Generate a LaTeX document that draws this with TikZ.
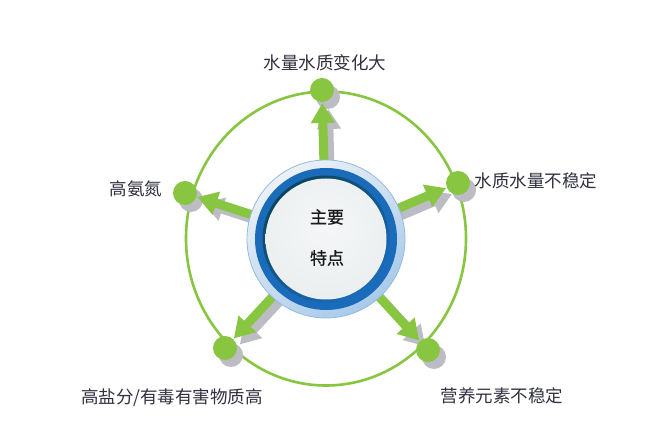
\documentclass[tikz,border=0pt]{standalone}
\usepackage{fontspec}
\setmainfont{Noto Sans CJK SC}
\newfontfamily\cfont[FakeBold=0.6]{Noto Sans CJK SC}
\usetikzlibrary{arrows.meta,calc}
\definecolor{lgreen}{RGB}{136,198,66}
\definecolor{sgray}{RGB}{188,188,196}
\definecolor{txt}{RGB}{48,48,64}
\definecolor{ringblue}{RGB}{168,202,234}
\definecolor{ringlight}{RGB}{236,241,246}
\definecolor{ringedge}{RGB}{150,186,222}
\definecolor{darkblue}{RGB}{26,108,186}
\definecolor{darkteal}{RGB}{10,70,96}
\definecolor{facec}{RGB}{244,246,247}
\definecolor{facee}{RGB}{222,226,228}
\pgfdeclareradialshading{faceshade}{\pgfpoint{0bp}{6bp}}{color(0bp)=(facec); color(30bp)=(facec!60!facee); color(48bp)=(facee); color(56bp)=(facec)}
\tikzset{
  garrow/.style={draw=lgreen, line width=9pt, -{Triangle[width=23pt,length=20pt]}, shorten >=13pt},
  sarrow/.style={draw=sgray, line width=9pt, -{Triangle[width=23pt,length=20pt]}, shorten >=13pt},
  gdot/.style={circle, fill=lgreen, minimum size=24pt, inner sep=0pt},
  sdot/.style={circle, fill=sgray, minimum size=24pt, inner sep=0pt},
  lbl/.style={text=txt, font=\fontsize{17.5}{20}\selectfont, inner sep=0pt},
  ctext/.style={text=black!90, font=\cfont\fontsize{17}{20}\selectfont, inner sep=0pt},
}
\begin{document}
\begin{tikzpicture}[x=1pt,y=1pt]
\useasboundingbox (0,0) rectangle (661,441);
\fill[white] (0,0) rectangle (661,441);
\coordinate (c) at (326,202);
\coordinate (p1) at (322,351);
\coordinate (p2) at (458,258);
\coordinate (p3) at (185,248);
\coordinate (p4) at (428,91);
\coordinate (p5) at (225,93);
% outer ring
\draw[lgreen, line width=2.6pt] (326,202.5) ellipse [x radius=140, y radius=147];
% shadows
\foreach \p in {p1,p2,p3,p4,p5}{
  \draw[sarrow] ([shift={(6,-6)}]c) -- ([shift={(6,-6)}]\p);
  \node[sdot] at ([shift={(6,-7)}]\p) {};
}
% green arrows
\foreach \p in {p1,p2,p3,p4,p5}{
  \draw[garrow] (c) -- (\p);
}
\node[gdot] (d1) at (p1) {};
\node[gdot] (d2) at (p2) {};
\node[gdot] (d3) at (p3) {};
\node[gdot] (d4) at (p4) {};
\node[gdot] (d5) at (p5) {};
% centre button
\node[circle, minimum size=158pt, inner sep=0pt, top color=ringlight, bottom color=ringblue, shading angle=35, draw=ringedge, line width=0.8pt] (btn) at (c) {};
\fill[darkblue] (btn.center) circle (71);
\shade[top color=darkteal, bottom color=darkblue, shading angle=40] (btn.center) circle (63.5);
\shade[shading=faceshade] (btn.center) circle (60.5);
\node[ctext] (t1) at (327,224) {主要};
\node[ctext] (t2) at (327,183) {特点};
% labels
\node[lbl] (l1) at (325,378) {水量水质变化大};
\node[lbl] (l2) at (536,260) {水质水量不稳定};
\node[lbl] (l3) at (136,252) {高氨氮};
\node[lbl] (l4) at (172,43) {高盐分/有毒有害物质高};
\node[lbl] (l5) at (502,45) {营养元素不稳定};
\end{tikzpicture}
\end{document}
